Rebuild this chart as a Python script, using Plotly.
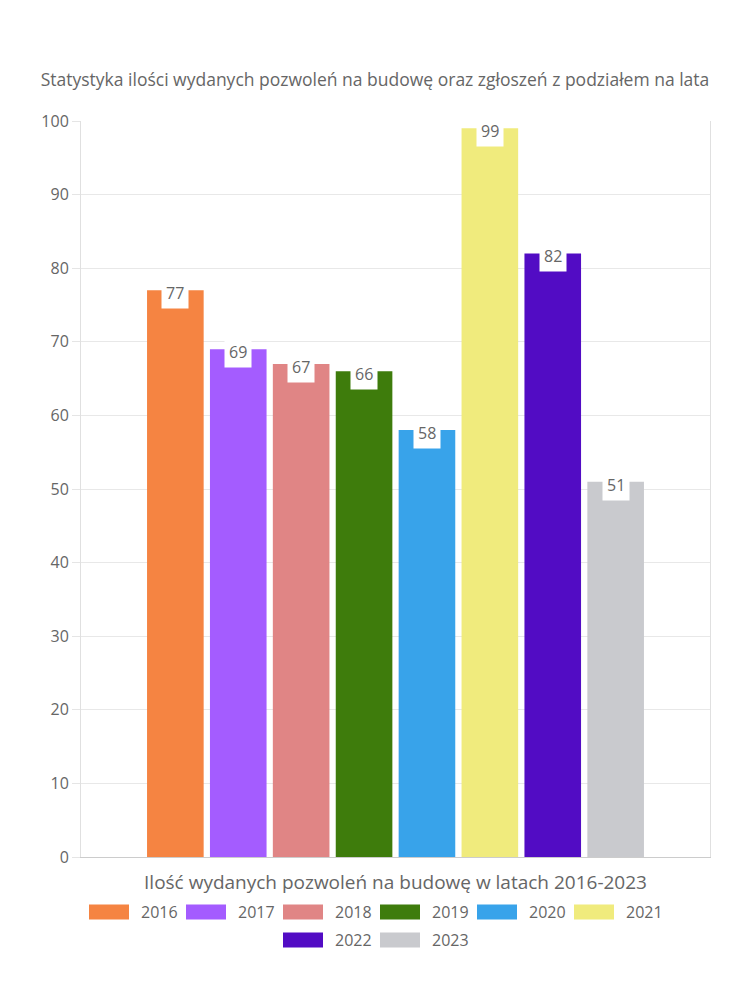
import plotly.graph_objects as go

years = ["2016", "2017", "2018", "2019", "2020", "2021", "2022", "2023"]
values = [77, 69, 67, 66, 58, 99, 82, 51]
colors = ["#F58442", "#A45CFF", "#E08585", "#3E7C0C", "#38A3EA", "#F0EB7D", "#520CC4", "#C9CACE"]
category = "Ilość wydanych pozwoleń na budowę w latach 2016-2023"
title = "Statystyka ilości wydanych pozwoleń na budowę oraz zgłoszeń z podziałem na lata"

FONT = "Open Sans, sans-serif"
GREY = "#666666"
W, H = 750, 1000
ML, MR, MT, MB = 81, 40, 121, 143
bargap, bargroupgap = 0.2, 0.1
plot_w = W - ML - MR
plot_h = H - MT - MB

fig = go.Figure()
for y, v, c in zip(years, values, colors):
    fig.add_trace(go.Bar(x=[category], y=[v], name=y, marker=dict(color=c, line=dict(width=0)),
                         hoverinfo="name+y", showlegend=False))

slot = plot_w * (1 - bargap) / len(years)
n = len(years)
for i, v in enumerate(values):
    fig.add_annotation(x=category, y=v, xref="x", yref="y", text=str(v), showarrow=False,
                       xshift=(i - (n - 1) / 2) * slot, yshift=-3, yanchor="middle",
                       bgcolor="white", borderpad=4, font=dict(family=FONT, size=16, color=GREY))

# custom legend (wide colour boxes, centred rows)
def px_x(p):
    return (p - ML) / plot_w

def px_y(p):
    return (H - MB - p) / plot_h

rows = [list(range(0, 6)), list(range(6, 8))]
row_y = [912, 940]
box_w, box_h, gap, text_w, item_gap = 40, 15, 10, 37, 10
item_w = box_w + gap + text_w + item_gap
for r, idxs in enumerate(rows):
    total = len(idxs) * item_w - item_gap
    x0 = W / 2 - total / 2
    for k, i in enumerate(idxs):
        bx = x0 + k * item_w
        cy = row_y[r]
        fig.add_shape(type="rect", xref="paper", yref="paper",
                      x0=px_x(bx), x1=px_x(bx + box_w), y0=px_y(cy + box_h / 2), y1=px_y(cy - box_h / 2),
                      fillcolor=colors[i], line=dict(width=0), layer="above")
        fig.add_annotation(xref="paper", yref="paper", x=px_x(bx + box_w + gap), y=px_y(cy),
                           xanchor="left", yanchor="middle", text=years[i], showarrow=False,
                           font=dict(family=FONT, size=16, color=GREY))

fig.update_layout(
    width=W, height=H, autosize=False,
    margin=dict(l=ML, r=MR, t=MT, b=MB),
    paper_bgcolor="white", plot_bgcolor="white",
    barmode="group", bargap=bargap, bargroupgap=bargroupgap,
    title=dict(text=title, x=0.5, xanchor="center", y=1 - 80 / H, yanchor="middle",
               font=dict(family=FONT, size=17.5, color=GREY)),
    font=dict(family=FONT, color=GREY),
    showlegend=False,
    xaxis=dict(showgrid=False, showline=True, linecolor="#cccccc", linewidth=1,
               ticks="", ticklabelstandoff=8,
               tickfont=dict(family=FONT, size=19, color=GREY), fixedrange=True),
    yaxis=dict(range=[0, 100], dtick=10, showgrid=True, gridcolor="#e8e8e8",
               showline=True, mirror=True, linecolor="#e0e0e0",
               ticks="outside", ticklen=8, tickcolor="#e5e5e5", zeroline=False,
               tickfont=dict(family=FONT, size=16, color=GREY), fixedrange=True),
)

fig.write_html("out.html")
